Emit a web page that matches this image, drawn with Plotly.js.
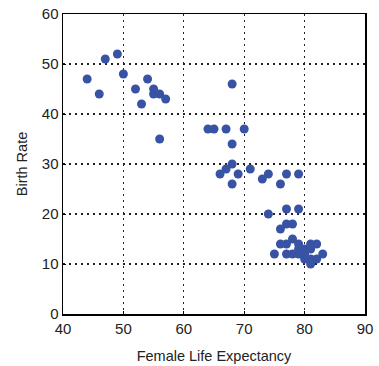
<!DOCTYPE html>
<html>
<head>
<meta charset="utf-8">
<script src="https://cdn.plot.ly/plotly-3.0.1.min.js"></script>
<style>html,body{margin:0;padding:0;background:#fff;}#chart{width:379px;height:366px;}</style>
</head>
<body>
<div id="chart"></div>
<script>
const lifeExpectancy = [44,46,47,49,50,52,53,54,55,55,56,57,56,
  68,64,65,67,70,68,68,67,66,69,71,68,73,74,76,77,79,
  74,77,79,76,77,78,
  76,77,78,79,81,82,
  75,77,78,79,80,80,81,80,81,82,81,83,79];
const birthRate = [47,44,51,52,48,45,42,47,45,44,44,43,35,
  46,37,37,37,37,34,30,29,28,28,29,26,27,28,26,28,28,
  20,21,21,17,18,18,
  14,14,15,14,14,14,
  12,12,12,12,12,13,13,11,11,11,10,12,13];
const xTicks = [40,50,60,70,80,90];
const yTicks = [0,10,20,30,40,50,60];

const fontFam = 'Liberation Sans, Arial, sans-serif';
const axisCommon = {
  showline: true, linecolor: '#000', linewidth: 1.5, mirror: true,
  showgrid: true, gridcolor: '#222', griddash: '2px,4px', gridwidth: 1.3,
  zeroline: false, ticks: 'inside', ticklen: 3, tickcolor: '#000',
  tickfont: {family: fontFam, size: 15, color: '#222'}
};

Plotly.newPlot('chart', [{
  type: 'scatter', mode: 'markers',
  x: lifeExpectancy, y: birthRate,
  marker: {size: 9, color: '#3953a4'}
}], {
  width: 379, height: 366,
  margin: {l: 63, r: 14, t: 14, b: 52},
  paper_bgcolor: '#fff', plot_bgcolor: '#fff',
  showlegend: false,
  xaxis: Object.assign({}, axisCommon, {
    range: [40, 90], tickvals: xTicks,
    title: {text: 'Female Life Expectancy', standoff: 15, font: {family: fontFam, size: 14.5, color: '#222'}}
  }),
  yaxis: Object.assign({}, axisCommon, {
    range: [0, 60], tickvals: yTicks,
    title: {text: 'Birth Rate', standoff: 10, font: {family: fontFam, size: 14.5, color: '#222'}}
  })
}, {staticPlot: true});
</script>
</body>
</html>
